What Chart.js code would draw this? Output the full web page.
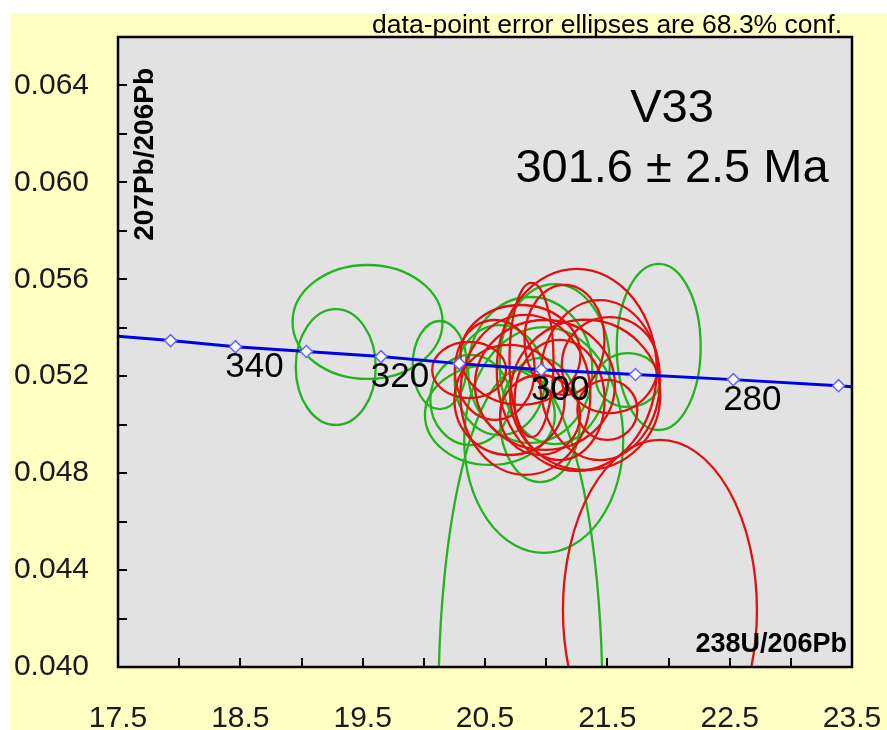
<!DOCTYPE html>
<html>
<head>
<meta charset="utf-8">
<script src="https://cdn.jsdelivr.net/npm/chart.js@4.4.1/dist/chart.umd.min.js"></script>
<style>
    html, body { margin: 0; padding: 0; background: #fff; }
    #wrap { width: 887px; height: 730px; }
</style>
</head>
<body>
<div id="wrap"><canvas id="concordia"></canvas></div>
<script>
// Concordia curve (diamond markers every 10 Ma)
const concAges = [350, 340, 330, 320, 310, 300, 290, 280, 270];
const concX = [17.93, 18.46, 19.04, 19.65, 20.29, 20.96, 21.73, 22.53, 23.39];
const concY = [0.05347, 0.05322, 0.05302, 0.05281, 0.05252, 0.05227, 0.05207, 0.05186, 0.05161];
const lineEndX = [17.5, 23.5];
const lineEndY = [0.05365, 0.05157];
const labelledAges = [340, 320, 300, 280];

// error ellipses: centre and half extents, in 238U/206Pb and 207Pb/206Pb units
const greenX  = [19.54, 19.28, 20.13, 21.92, 21.67, 20.98, 20.79, 20.95, 20.54, 20.87, 21.07, 20.62, 20.38];
const greenY  = [0.05424, 0.05238, 0.05246, 0.05321, 0.05184, 0.04937, 0.03864, 0.05019, 0.05040, 0.05226, 0.05250, 0.05184, 0.05102];
const greenSx = [0.613, 0.327, 0.221, 0.343, 0.262, 0.650, 0.670, 0.327, 0.531, 0.507, 0.450, 0.368, 0.327];
const greenSy = [0.00235, 0.00239, 0.00182, 0.00343, 0.00111, 0.00466, 0.01362, 0.00256, 0.00206, 0.00301, 0.00330, 0.00227, 0.00186];

const redX  = [20.37, 21.25, 21.50, 21.93, 20.88, 20.79, 20.99, 20.70, 21.11, 21.32, 21.52, 20.58, 20.95, 20.83, 21.15, 21.44];
const redY  = [0.05226, 0.05226, 0.05061, 0.04235, 0.05267, 0.05288, 0.05164, 0.05102, 0.05102, 0.05123, 0.05246, 0.05226, 0.05040, 0.05123, 0.05350, 0.05184];
const redSx = [0.302, 0.654, 0.245, 0.793, 0.180, 0.490, 0.572, 0.450, 0.368, 0.613, 0.392, 0.327, 0.327, 0.531, 0.327, 0.490];
const redSy = [0.00116, 0.00417, 0.00124, 0.00702, 0.00318, 0.00206, 0.00268, 0.00227, 0.00248, 0.00310, 0.00198, 0.00206, 0.00165, 0.00330, 0.00227, 0.00330];

const xMin = 17.5, xMax = 23.5, xStep = 0.5;
const yMin = 0.040, yMax = 0.066, yStep = 0.002;

const FONT = "'Liberation Sans', Arial, sans-serif";

// line points: edge, markers, edge
const linePoints = [{ x: lineEndX[0], y: lineEndY[0] }]
    .concat(concX.map((x, i) => ({ x: x, y: concY[i] })))
    .concat([{ x: lineEndX[1], y: lineEndY[1] }]);
const lineRadius = linePoints.map((p, i) => (i === 0 || i === linePoints.length - 1) ? 0 : 6);

const decorPlugin = {
    id: 'decor',
    beforeDraw(chart) {
        const ctx = chart.ctx;
        const a = chart.chartArea;
        ctx.save();
        ctx.fillStyle = '#ffffc4';
        ctx.fillRect(10, 14, chart.width - 10, chart.height - 14);
        ctx.fillStyle = '#e2e2e2';
        ctx.fillRect(a.left, a.top, a.right - a.left, a.bottom - a.top);
        ctx.restore();
    },
    beforeDatasetsDraw(chart) {
        const ctx = chart.ctx;
        const a = chart.chartArea;
        const xs = chart.scales.x, ys = chart.scales.y;
        ctx.save();
        ctx.beginPath();
        ctx.rect(a.left, a.top, a.right - a.left, a.bottom - a.top);
        ctx.clip();
        ctx.lineWidth = 2.3;
        const drawSet = (cx, cy, sx, sy, color) => {
            ctx.strokeStyle = color;
            cx.forEach((x, i) => {
                const px = xs.getPixelForValue(x);
                const py = ys.getPixelForValue(cy[i]);
                const rx = Math.abs(xs.getPixelForValue(x + sx[i]) - px);
                const ry = Math.abs(ys.getPixelForValue(cy[i] + sy[i]) - py);
                ctx.beginPath();
                ctx.ellipse(px, py, rx, ry, 0, 0, Math.PI * 2);
                ctx.stroke();
            });
        };
        drawSet(greenX, greenY, greenSx, greenSy, '#22b41e');
        drawSet(redX, redY, redSx, redSy, '#e2100e');
        ctx.restore();
    },
    afterDatasetsDraw(chart) {
        const ctx = chart.ctx;
        const a = chart.chartArea;
        const xs = chart.scales.x, ys = chart.scales.y;
        ctx.save();

        // age labels on the concordia
        ctx.fillStyle = '#000';
        ctx.font = '35px ' + FONT;
        ctx.textAlign = 'center';
        ctx.textBaseline = 'middle';
        labelledAges.forEach(age => {
            const i = concAges.indexOf(age);
            ctx.fillText(String(age), xs.getPixelForValue(concX[i]) + 19, ys.getPixelForValue(concY[i]) + 21);
        });

        // inward tick marks
        ctx.strokeStyle = '#000';
        ctx.lineWidth = 2;
        xs.ticks.forEach(t => {
            const px = Math.round(xs.getPixelForValue(t.value));
            ctx.beginPath();
            ctx.moveTo(px, a.bottom);
            ctx.lineTo(px, a.bottom - 9);
            ctx.stroke();
        });
        ys.ticks.forEach(t => {
            const py = Math.round(ys.getPixelForValue(t.value));
            ctx.beginPath();
            ctx.moveTo(a.left, py);
            ctx.lineTo(a.left + 9, py);
            ctx.stroke();
        });

        // frame
        ctx.lineWidth = 2.5;
        ctx.strokeRect(a.left, a.top, a.right - a.left, a.bottom - a.top);

        // axis titles
        ctx.font = 'bold 27px ' + FONT;
        ctx.textAlign = 'right';
        ctx.textBaseline = 'alphabetic';
        ctx.fillText('238U/206Pb', a.right - 5, a.bottom - 15);
        ctx.save();
        ctx.font = 'bold 28px ' + FONT;
        ctx.translate(a.left + 35, a.top + 31);
        ctx.rotate(-Math.PI / 2);
        ctx.textAlign = 'right';
        ctx.fillText('207Pb/206Pb', 0, 0);
        ctx.restore();

        // sample name and age
        ctx.font = '47px ' + FONT;
        ctx.textAlign = 'center';
        ctx.textBaseline = 'middle';
        ctx.fillText('V33', 672, 109);
        ctx.fillText('301.6 \u00b1 2.5 Ma', 672, 169);

        // note above the plot
        ctx.font = '26.5px ' + FONT;
        ctx.textAlign = 'right';
        ctx.textBaseline = 'alphabetic';
        ctx.fillText('data-point error ellipses are 68.3% conf.', a.right - 10, 33);
        ctx.restore();
    }
};

new Chart(document.getElementById('concordia'), {
    type: 'scatter',
    data: {
        datasets: [{
            label: 'Concordia',
            data: linePoints,
            showLine: true,
            borderColor: '#0000e6',
            borderWidth: 3,
            pointStyle: 'rectRot',
            pointRadius: lineRadius,
            pointBackgroundColor: '#ffffff',
            pointBorderColor: '#6666ff',
            pointBorderWidth: 1.5,
            clip: false
        }]
    },
    options: {
        responsive: true,
        maintainAspectRatio: false,
        animation: false,
        layout: { padding: { left: 10, top: 37, right: 35, bottom: 0 } },
        plugins: {
            legend: { display: false },
            tooltip: { enabled: false }
        },
        scales: {
            x: {
                type: 'linear',
                min: xMin,
                max: xMax,
                grid: { display: false, drawTicks: false },
                border: { display: false },
                afterFit: s => { s.height = 63; s.paddingLeft = 0; s.paddingRight = 0; },
                ticks: {
                    stepSize: xStep,
                    padding: 34,
                    color: '#1a1a1a',
                    font: { family: FONT, size: 30 },
                    maxRotation: 0,
                    autoSkip: false,
                    callback: v => Math.round((v - xMin) / xStep) % 2 === 0 ? v.toFixed(1) : ''
                }
            },
            y: {
                type: 'linear',
                min: yMin,
                max: yMax,
                grid: { display: false, drawTicks: false },
                border: { display: false },
                afterFit: s => { s.width = 108; s.paddingTop = 0; s.paddingBottom = 0; },
                ticks: {
                    stepSize: yStep,
                    padding: 29,
                    color: '#1a1a1a',
                    font: { family: FONT, size: 30 },
                    autoSkip: false,
                    callback: v => Math.round((v - yMin) / yStep) % 2 === 0 ? v.toFixed(3) : ''
                }
            }
        }
    },
    plugins: [decorPlugin]
});
</script>
</body>
</html>
